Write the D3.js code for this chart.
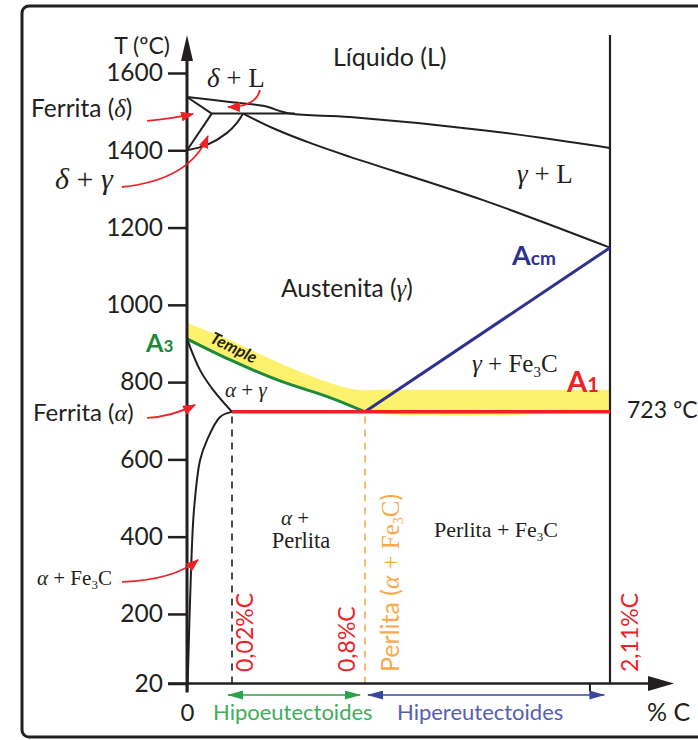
<!DOCTYPE html>
<html>
<head>
<meta charset="utf-8">
<script src="https://cdn.jsdelivr.net/npm/d3@7"></script>
<style>
  body { margin: 0; background: #fff; }
  text { font-family: Lato, "Open Sans", sans-serif; }
  .serif { font-family: "Liberation Serif", "DejaVu Serif", serif; }
  .it { font-style: italic; }
</style>
</head>
<body>
<script>
// Fe-C diagram, steel side (schematic: the 0-0.8 % C part is stretched)
var tempTicks = [20, 200, 400, 600, 800, 1000, 1200, 1400, 1600];
var carbonStops = [0, 0.02, 0.8, 2.11];

// boundaries as [%C, T]
var liquidus    = [[0,1538],[0.019,1525],[0.202,1515],[0.36,1495],[0.712,1486],[1.431,1452],[2.11,1406]];
var deltaTop    = [[0,1538],[0.011,1495]];
var peritectic  = [[0.011,1495],[0.389,1495]];
var deltaBottom = [[0.011,1495],[0,1400]];
var gammaDelta  = [[0,1400],[0.0089,1414],[0.0178,1445],[0.049,1471],[0.085,1495]];
var solidus     = [[0.085,1495],[0.272,1455],[0.477,1419],[0.712,1383],[1.431,1271],[2.11,1148]];
var alphaGamma  = [[0,912],[0.0058,831],[0.0116,780],[0.02,723]];
var alphaSolvus = [[0.02,723],[0.0147,710],[0.0089,650],[0.0058,598],[0.0031,469],[0.0018,314],[0.0003,20]];
var a3Line      = [[0,912],[0.019,858],[0.302,803],[0.595,760],[0.8,723]];
var acmLine     = [[0.8,723],[2.11,1148]];
var a1Line      = [[0.02,723],[2.11,723]];
var templeTop   = [[0,953],[0.019,909],[0.302,849],[0.595,798],[0.753,780],[0.88,780],[2.11,780]];
var guides      = [0.02, 0.8, 2.11];

var red = "#ec2227", green = "#1b8a3b", blue = "#2e3192", orange = "#f9a94b", ink = "#231f20";

var svg = d3.select("body").append("svg")
    .attr("width", 698)
    .attr("height", 740);

var defs = svg.append("defs");
function marker(id, color, w, h) {
  defs.append("marker")
      .attr("id", id)
      .attr("markerUnits", "userSpaceOnUse")
      .attr("markerWidth", w).attr("markerHeight", h)
      .attr("refX", w - 1).attr("refY", h / 2)
      .attr("orient", "auto-start-reverse")
    .append("path")
      .attr("d", "M0,0L" + w + "," + (h / 2) + "L0," + h + "Z")
      .attr("fill", color);
}
marker("headRed", red, 13, 10);
marker("headGreen", "#2ca24c", 16, 9);
marker("headBlue", "#3a47a0", 16, 9);

var x = d3.scaleLinear().domain(carbonStops).range([187, 232, 365, 610]);
var y = d3.scaleLinear().domain([20, 1600]).range([683.5, 73]);

var line = d3.line().x(d => x(d[0])).y(d => y(d[1]));
var smooth = d3.line().x(d => x(d[0])).y(d => y(d[1])).curve(d3.curveCatmullRom.alpha(0.5));

// frame
svg.append("rect")
    .attr("x", 22).attr("y", 6)
    .attr("width", 720).attr("height", 731)
    .attr("rx", 7)
    .attr("fill", "none").attr("stroke", ink).attr("stroke-width", 3);

// temple band
var bandTop = smooth(templeTop);
var bandBottom = smooth(a3Line.concat([[2.11, 723]]).reverse());
svg.append("path")
    .attr("d", bandTop + bandBottom.replace(/^M/, "L") + "Z")
    .attr("fill", "#fdf16d");

// vertical guides
svg.selectAll(".guide")
  .data(guides)
  .enter().append("line")
    .attr("x1", d => x(d)).attr("x2", d => x(d))
    .attr("y1", y(20))
    .attr("y2", d => d === 2.11 ? 35 : y(723))
    .attr("stroke", d => d === 0.8 ? orange : ink)
    .attr("stroke-width", d => d === 2.11 ? 2.2 : 1.6)
    .attr("stroke-dasharray", d => d === 2.11 ? null : "7,6");

// black phase boundaries
[liquidus, gammaDelta, solidus, alphaGamma, alphaSolvus].forEach(function(b) {
  svg.append("path").attr("d", smooth(b))
      .attr("fill", "none").attr("stroke", ink).attr("stroke-width", 2);
});
[deltaTop, peritectic, deltaBottom].forEach(function(b) {
  svg.append("path").attr("d", line(b))
      .attr("fill", "none").attr("stroke", ink).attr("stroke-width", 2);
});

// critical lines
svg.append("path").attr("d", smooth(a3Line))
    .attr("fill", "none").attr("stroke", green).attr("stroke-width", 3);
svg.append("path").attr("d", line(acmLine))
    .attr("fill", "none").attr("stroke", blue).attr("stroke-width", 3);
svg.append("path").attr("d", line(a1Line))
    .attr("fill", "none").attr("stroke", red).attr("stroke-width", 3.5);

// axes
var yAxis = svg.append("g")
    .attr("transform", "translate(" + x(0) + ",0)")
    .call(d3.axisLeft(y).tickValues(tempTicks).tickSize(19).tickPadding(5)
      .tickFormat(d3.format("d")));
yAxis.select(".domain").remove();
yAxis.selectAll("line").attr("stroke", ink).attr("stroke-width", 2.5);
yAxis.selectAll("text").attr("font-size", 24.5).attr("font-family", "Lato").attr("fill", ink);

var xAxis = svg.append("g")
    .attr("transform", "translate(0," + y(20) + ")")
    .call(d3.axisBottom(x).tickValues([0, 2]).tickSize(8).tickPadding(12)
      .tickFormat(d => d === 0 ? "0" : ""));
xAxis.select(".domain").remove();
xAxis.selectAll("line").attr("stroke", ink).attr("stroke-width", 2);
xAxis.selectAll("text").attr("font-size", 24).attr("font-family", "Lato").attr("fill", ink);

svg.append("line")
    .attr("x1", 168).attr("x2", 652)
    .attr("y1", y(20)).attr("y2", y(20))
    .attr("stroke", ink).attr("stroke-width", 2.5);
svg.append("path")
    .attr("d", "M648," + (y(20) - 7.5) + "L674," + y(20) + "L648," + (y(20) + 7.5) + "Z")
    .attr("fill", ink);
svg.append("line")
    .attr("x1", x(0)).attr("x2", x(0))
    .attr("y1", y(20) + 9).attr("y2", 58)
    .attr("stroke", ink).attr("stroke-width", 3);
svg.append("path")
    .attr("d", "M" + (x(0) - 6) + ",61L" + x(0) + ",35L" + (x(0) + 6) + ",61Z")
    .attr("fill", ink);

// helper for mixed labels: parts = [text, class, size, dy]
function label(px, py, parts, opts) {
  opts = opts || {};
  var t = svg.append("text").attr("x", px).attr("y", py)
      .attr("font-size", opts.size || 21)
      .attr("fill", opts.color || ink)
      .attr("font-weight", opts.weight || null)
      .attr("text-anchor", opts.anchor || "start");
  if (opts.rotate) t.attr("transform", "rotate(" + opts.rotate + "," + px + "," + py + ")");
  parts.forEach(function(p) {
    var s = t.append("tspan").text(p[0]);
    if (p[1]) s.attr("class", p[1]);
    if (p[2]) s.attr("font-size", p[2]);
    if (p[3]) s.attr("dy", p[3]);
  });
  return t;
}

label(170, 54, [["T (ºC)"]], {size: 23, anchor: "end"});
label(647, 721, [["% C"]], {size: 25});

label(333, 66, [["Líquido (L)"]], {size: 25});
label(281, 297, [["Austenita "], ["("], ["γ", "serif it"], [")"]], {size: 24.5});
label(31, 117, [["Ferrita "], ["("], ["δ", "serif it"], [")"]], {size: 24.5});
label(33, 421, [["Ferrita "], ["("], ["α", "serif it"], [")"]], {size: 24});
label(207, 87, [["δ", "it"], [" + L"]], {size: 27}).attr("class", "serif");
label(55, 189, [["δ", "it"], [" + "], ["γ", "it"]], {size: 30}).attr("class", "serif");
label(517, 183, [["γ", "it"], [" + L"]], {size: 27}).attr("class", "serif");
label(225, 397, [["α", "it"], [" + "], ["γ", "it"]], {size: 21}).attr("class", "serif");
label(472, 372, [["γ", "it"], [" + Fe"], ["3", null, 15, 5], ["C", null, null, -5]], {size: 25}).attr("class", "serif");
label(37, 585, [["α", "it"], [" + Fe"], ["3", null, 13, 4], ["C", null, null, -4]], {size: 21}).attr("class", "serif");
label(295, 525, [["α", "it"], [" +"]], {size: 21, anchor: "middle"}).attr("class", "serif");
label(301, 548, [["Perlita"]], {size: 22.5, anchor: "middle"}).attr("class", "serif");
label(434, 537, [["Perlita + Fe"], ["3", null, 13, 4], ["C", null, null, -4]], {size: 22}).attr("class", "serif");

label(146, 352, [["A"], ["3", null, 17]], {size: 25, weight: "bold", color: green});
label(512, 265, [["A"], ["cm", null, 19]], {size: 27, weight: "bold", color: blue});
label(567, 392, [["A"], ["1", null, 20]], {size: 29, weight: "bold", color: red});
label(627, 418, [["723 ºC"]], {size: 23});

label(209, 342, [["Temple"]], {size: 16.5, weight: "bold", rotate: 26, color: "#22210f"}).attr("font-style", "italic");

// rotated %C labels
label(253, 672, [["0,02%C"]], {size: 23, color: red, rotate: -90});
label(355, 672, [["0,8%C"]], {size: 23, color: red, rotate: -90});
label(638, 672, [["2,11%C"]], {size: 23, color: red, rotate: -90});
label(399, 672, [["Perlita "], ["("], ["α", "serif it"], [" + Fe", "serif"], ["3", "serif", 14, 4], ["C", "serif", null, -4], [")"]], {size: 25, color: orange, rotate: -90});

// red pointer arrows: tip in data, tail/control as pixel offsets from tip
var pointers = [
  {tip: [0.0027, 1494], tail: [-46, 7], ctrl: [-22, 5]},
  {tip: [0.0182, 1512], tail: [32, -17], ctrl: [28, 0]},
  {tip: [0.0093, 1437], tail: [-86, 51], ctrl: [-18, 44]},
  {tip: [0.0036, 741], tail: [-48, 13], ctrl: [-24, 12]},
  {tip: [0.0049, 340], tail: [-76, 22], ctrl: [-24, 20]}
];
pointers.forEach(function(p) {
  var tx = x(p.tip[0]), ty = y(p.tip[1]);
  svg.append("path")
      .attr("d", "M" + (tx + p.tail[0]) + "," + (ty + p.tail[1]) +
                 "Q" + (tx + p.ctrl[0]) + "," + (ty + p.ctrl[1]) + " " + tx + "," + ty)
      .attr("fill", "none").attr("stroke", red).attr("stroke-width", 1.8)
      .attr("marker-end", "url(#headRed)");
});

// hypo / hyper ranges
var ranges = [
  {from: 0.02, to: 0.8, arrow: "#2ca24c", head: "headGreen", pad: [-4, -5]},
  {from: 0.8, to: 2.08, arrow: "#3a47a0", head: "headBlue", pad: [3, 0]}
];
ranges.forEach(function(r) {
  svg.append("line")
      .attr("x1", x(r.from) + r.pad[0]).attr("x2", x(r.to) + r.pad[1])
      .attr("y1", 695).attr("y2", 695)
      .attr("stroke", r.arrow).attr("stroke-width", 1.6)
      .attr("marker-start", "url(#" + r.head + ")")
      .attr("marker-end", "url(#" + r.head + ")");
});
label(213, 720, [["Hipoeutectoides"]], {size: 22, color: "#3fae5a"});
label(397, 720, [["Hipereutectoides"]], {size: 22, color: "#5560ad"});
</script>
</body>
</html>
